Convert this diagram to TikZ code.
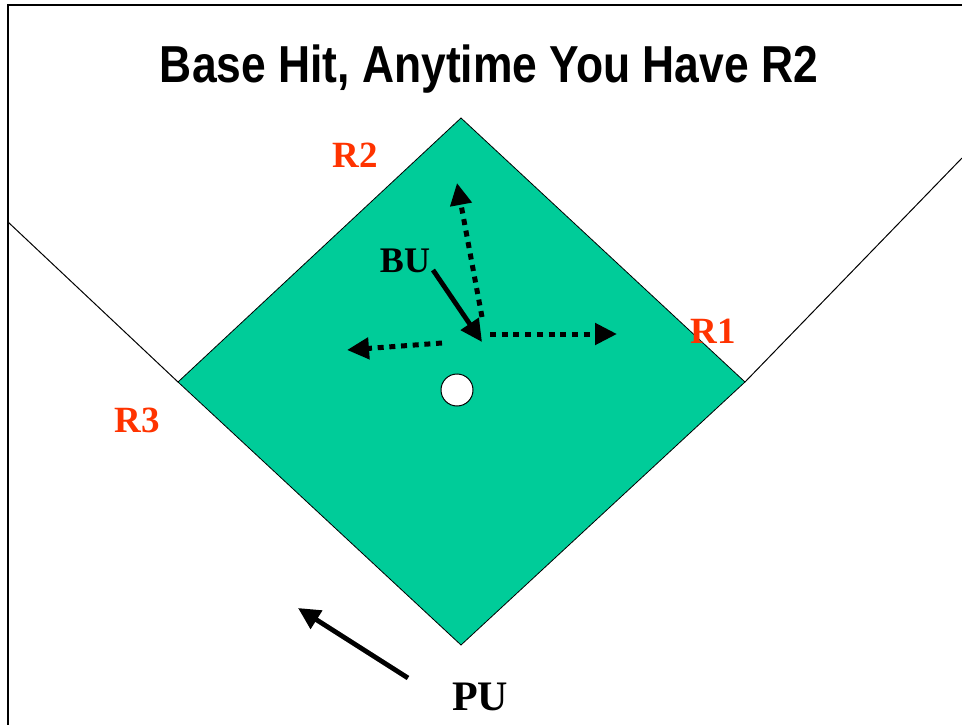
\documentclass[tikz,border=0pt]{standalone}
\usepackage{fontspec}
\setmainfont{Liberation Serif}
\newfontfamily\titlefont{Liberation Sans}
\usetikzlibrary{arrows.meta,positioning,calc}
\definecolor{fieldgreen}{RGB}{0,204,153}
\definecolor{runred}{RGB}{255,51,0}
\tikzset{
  runner/.style={font=\fontsize{37}{37}\selectfont\bfseries, text=runred, anchor=base, inner sep=0pt},
  player/.style={font=\fontsize{#1}{#1}\selectfont\bfseries, anchor=base, inner sep=0pt},
  solidarr/.style={-{Triangle[length=22pt,width=21pt]}, line width=4.8pt},
  dotarr/.style={-{Triangle[length=22pt,width=21pt]}, line width=5pt, dash pattern=on 6pt off 5.7pt},
  foul/.style={line width=1pt},
}
\begin{document}
\begin{tikzpicture}[x=1pt,y=-1pt]
\useasboundingbox (0,0) rectangle (962,725);
% frame
\draw[line width=1.3pt] (8,725) -- (8,5) -- (962,5);
% bases
\coordinate (home) at (461,645);
\coordinate (first) at (745,382);
\coordinate (second) at (461,118);
\coordinate (third) at (178,382);
\coordinate (lfoul) at (8,222);
\coordinate (rfoul) at (962,158);
% infield
\draw[fill=fieldgreen, line width=0.8pt] (home) -- (first) -- (second) -- (third) -- cycle;
\draw[foul] (third) -- (lfoul);
\draw[foul] (first) -- (rfoul);
\node[circle, draw, fill=white, minimum size=32pt, inner sep=0pt, line width=1pt] (mound) at (457,390) {};
% title
\node[font=\titlefont\bfseries\fontsize{52}{52}\selectfont, anchor=base, inner sep=0pt] (title) at (489,83) {\scalebox{0.854}[1]{Base Hit, Anytime You Have R2}};
% runners
\node[runner] (r2) at (355,167) {R2};
\node[runner] (r1) at (713,343) {R1};
\node[runner] (r3) at (137,432) {R3};
% fielders
\node[player=36] (bu) at (405,272) {BU};
\node[player=42] (pu) at (480,710) {PU};
% moves
\coordinate (bu0) at (433,270);
\coordinate (pivot) at (482,342);
\coordinate (up0) at (482,317);
\coordinate (up1) at (457,183);
\coordinate (rt0) at (490,334);
\coordinate (rt1) at (617,334);
\coordinate (lt0) at (442,343);
\coordinate (lt1) at (347,350);
\coordinate (pu0) at (408,678);
\coordinate (pu1) at (298,608);
\draw[solidarr] (bu0) -- (pivot);
\draw[dotarr] (up0) -- (up1);
\draw[dotarr] (rt0) -- (rt1);
\draw[dotarr] (lt0) -- (lt1);
\draw[solidarr] (pu0) -- (pu1);
\end{tikzpicture}
\end{document}
